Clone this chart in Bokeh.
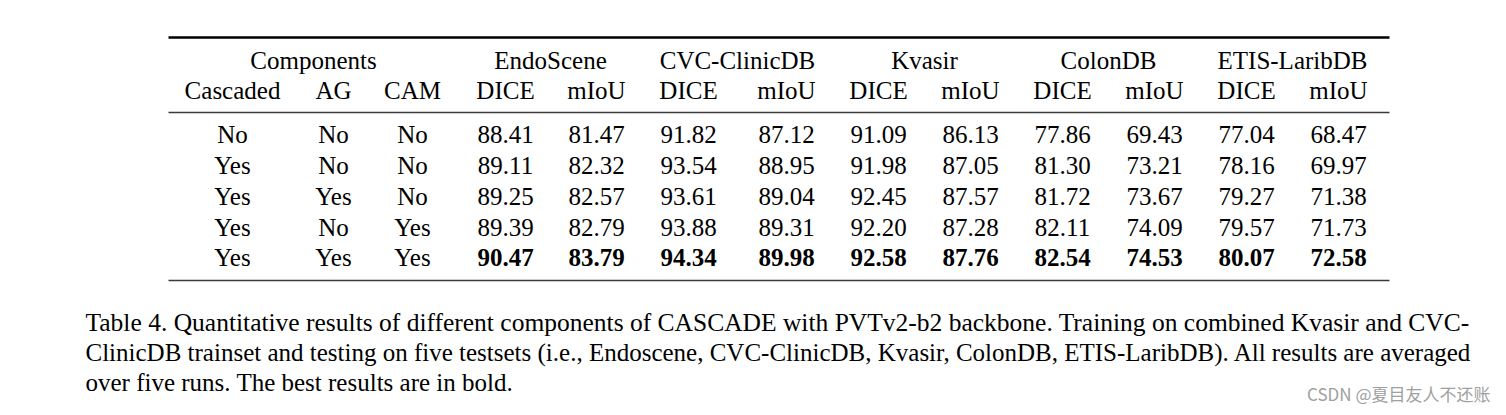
from bokeh.plotting import figure
from bokeh.models import Range1d, ColumnDataSource
from bokeh.core.properties import value
from bokeh.embed import file_html
from bokeh.resources import INLINE

# ---------------- data ----------------
datasets = ["EndoScene", "CVC-ClinicDB", "Kvasir", "ColonDB", "ETIS-LaribDB"]
metrics = ["DICE", "mIoU"]
component_names = ["Cascaded", "AG", "CAM"]
cascaded = ["No", "Yes", "Yes", "Yes", "Yes"]
ag = ["No", "No", "Yes", "No", "Yes"]
cam = ["No", "No", "No", "Yes", "Yes"]
endoscene_dice = ["88.41", "89.11", "89.25", "89.39", "90.47"]
endoscene_miou = ["81.47", "82.32", "82.57", "82.79", "83.79"]
clinic_dice = ["91.82", "93.54", "93.61", "93.88", "94.34"]
clinic_miou = ["87.12", "88.95", "89.04", "89.31", "89.98"]
kvasir_dice = ["91.09", "91.98", "92.45", "92.20", "92.58"]
kvasir_miou = ["86.13", "87.05", "87.57", "87.28", "87.76"]
colon_dice = ["77.86", "81.30", "81.72", "82.11", "82.54"]
colon_miou = ["69.43", "73.21", "73.67", "74.09", "74.53"]
etis_dice = ["77.04", "78.16", "79.27", "79.57", "80.07"]
etis_miou = ["68.47", "69.97", "71.38", "71.73", "72.58"]
caption_lines = [
    "Table 4. Quantitative results of different components of CASCADE with PVTv2-b2 backbone.  Training on combined Kvasir and CVC-",
    "ClinicDB trainset and testing on five testsets (i.e., Endoscene, CVC-ClinicDB, Kvasir, ColonDB, ETIS-LaribDB). All results are averaged",
    "over five runs. The best results are in bold.",
]
watermark = "CSDN @夏目友人不还账"

# ---------------- layout (page pixels) ----------------
W, H = 1506, 415
FONT = value("Liberation Serif")
FS = "25px"
col_x = [232, 333, 412, 505, 596, 688, 786, 878, 970, 1062, 1154, 1246, 1338]
group_x = [313, 550, 737, 924, 1108, 1292]
row_base = [134, 165, 196, 227, 257]
head1_base, head2_base = 60, 90
rule_x0, rule_x1 = 168, 1389
caption_x, caption_base = 85, [322, 352, 382]
caption_sizes = ["25.5px", "25px", "25px"]

p = figure(width=W, height=H, output_backend="svg",
           toolbar_location=None, x_range=Range1d(0, W),
           y_range=Range1d(H, 0), min_border=0)
p.axis.visible = False
p.grid.visible = False
p.outline_line_color = None
p.background_fill_color = "white"
p.border_fill_color = "white"

def put(xs, ys, texts, style="normal", size=FS, font=FONT, color="black", align="center"):
    src = ColumnDataSource(dict(x=xs, y=ys, t=texts))
    p.text("x", "y", "t", source=src, text_font=font, text_font_size=size,
           text_font_style=style, text_color=color, text_align=align,
           text_baseline="alphabetic")

# rules
p.segment(x0=[rule_x0], y0=[37], x1=[rule_x1], y1=[37], line_color="black", line_width=2.5)
p.segment(x0=[rule_x0, rule_x0], y0=[112, 280], x1=[rule_x1, rule_x1], y1=[112, 280],
          line_color="#3a3a3a", line_width=1.6)

# header row 1
put(group_x, [head1_base] * 6, ["Components"] + datasets)
# header row 2
put(col_x, [head2_base] * 13, component_names + metrics * 5)

# body
columns = [cascaded, ag, cam, endoscene_dice, endoscene_miou, clinic_dice, clinic_miou,
           kvasir_dice, kvasir_miou, colon_dice, colon_miou, etis_dice, etis_miou]
nx, ny, nt, bx, by, bt = [], [], [], [], [], []
for ci, col in enumerate(columns):
    for ri, v in enumerate(col):
        if ri == len(col) - 1 and ci >= 3:
            bx.append(col_x[ci]); by.append(row_base[ri]); bt.append(v)
        else:
            nx.append(col_x[ci]); ny.append(row_base[ri]); nt.append(v)
put(nx, ny, nt)
put(bx, by, bt, style="bold")

# caption
for line, yb, sz in zip(caption_lines, caption_base, caption_sizes):
    put([caption_x], [yb], [line], size=sz, align="left")

# watermark
put([1490], [393], [watermark], font=value("Noto Sans CJK SC"), size="17px",
    color="#a0a0a0", align="right")

open("out.html", "w").write(file_html(p, INLINE))
